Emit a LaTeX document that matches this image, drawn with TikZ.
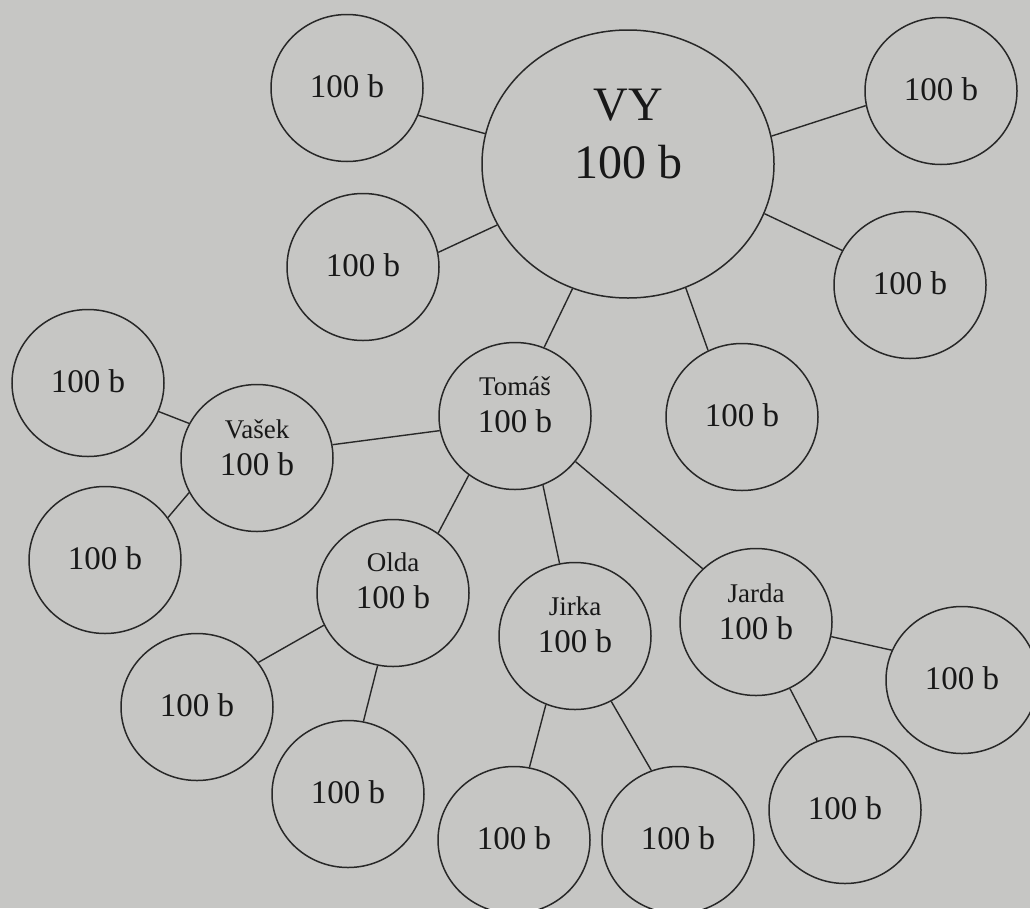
\documentclass[tikz,border=0pt]{standalone}
\usepackage{fontspec}
\setmainfont{Liberation Serif}
\usetikzlibrary{shapes.geometric}
\definecolor{bg}{RGB}{198,198,196}
\definecolor{ink}{RGB}{40,40,40}
\definecolor{textink}{RGB}{24,24,24}
\newcommand\nmfont{\fontsize{27}{37}\selectfont}
\begin{document}
\begin{tikzpicture}[x=1pt,y=-1pt,
  bubble/.style={ellipse, draw=ink, line width=1.5pt, minimum width=152pt, minimum height=147pt, inner sep=0pt},
  bigbubble/.style={ellipse, draw=ink, line width=1.5pt, minimum width=292pt, minimum height=268pt, inner sep=0pt},
  txt/.style={text=textink, font=\fontsize{33}{37}\selectfont, align=center, inner sep=0pt},
  bigtxt/.style={text=textink, font=\fontsize{48}{58}\selectfont, align=center, inner sep=0pt},
  link/.style={draw=ink, line width=1.4pt}]
\useasboundingbox (0,0) rectangle (1030,908);
\fill[bg] (0,0) rectangle (1030,908);
\clip (0,0) rectangle (1030,908);

% circles
\node[bigbubble] (VY) at (628,164) {};
\node[bubble] (TL) at (347,88) {};
\node[bubble] (LM) at (363,267) {};
\node[bubble] (TR) at (941,91) {};
\node[bubble] (R) at (910,285) {};
\node[bubble] (B) at (742,417) {};
\node[bubble] (T) at (515,416) {};
\node[bubble] (V) at (257,458) {};
\node[bubble] (FL) at (88,383) {};
\node[bubble] (LL) at (105,560) {};
\node[bubble] (O) at (393,593) {};
\node[bubble] (Ji) at (575,636) {};
\node[bubble] (Ja) at (756,622) {};
\node[bubble] (OL) at (197,707) {};
\node[bubble] (OB) at (348,794) {};
\node[bubble] (JiL) at (514,840) {};
\node[bubble] (JiR) at (678,840) {};
\node[bubble] (JB) at (845,810) {};
\node[bubble] (JR) at (962,680) {};

% texts
\node[bigtxt] (VY-t) at ([yshift=30pt]VY.center) {VY\\100 b};
\node[txt] (T-t) at ([yshift=11pt]T.center) {{\nmfont Tomáš}\\100 b};
\node[txt] (V-t) at ([yshift=10pt]V.center) {{\nmfont Vašek}\\100 b};
\node[txt] (O-t) at ([yshift=12pt]O.center) {{\nmfont Olda}\\100 b};
\node[txt] (Ji-t) at ([yshift=11pt]Ji.center) {{\nmfont Jirka}\\100 b};
\node[txt] (Ja-t) at ([yshift=10pt]Ja.center) {{\nmfont Jarda}\\100 b};
\foreach \n in {TL,LM,TR,R,B,FL,LL,OL,OB,JiL,JiR,JB,JR}
  \node[txt] (\n-t) at ([yshift=2pt]\n.center) {100 b};

% connectors
\draw[link] (TL.-21) -- (VY.168);
\draw[link] (LM.11) -- (VY.205);
\draw[link] (VY.11) -- (TR.191);
\draw[link] (VY.-20) -- (R.153);
\draw[link] (VY.-65) -- (B.117);
\draw[link] (VY.-114) -- (T.67);
\draw[link] (V.10) -- (T.191);
\draw[link] (FL.-22) -- (V.153);
\draw[link] (LL.34) -- (V.207);
\draw[link] (T.232) -- (O.53);
\draw[link] (T.-68) -- (Ji.102);
\draw[link] (T.-37) -- (Ja.135);
\draw[link] (Ja.-11) -- (JR.157);
\draw[link] (Ja.-63) -- (JB.112);
\draw[link] (Ji.247) -- (JiL.78);
\draw[link] (Ji.-61) -- (JiR.111);
\draw[link] (O.205) -- (OL.36);
\draw[link] (O.258) -- (OB.78);
\end{tikzpicture}
\end{document}
